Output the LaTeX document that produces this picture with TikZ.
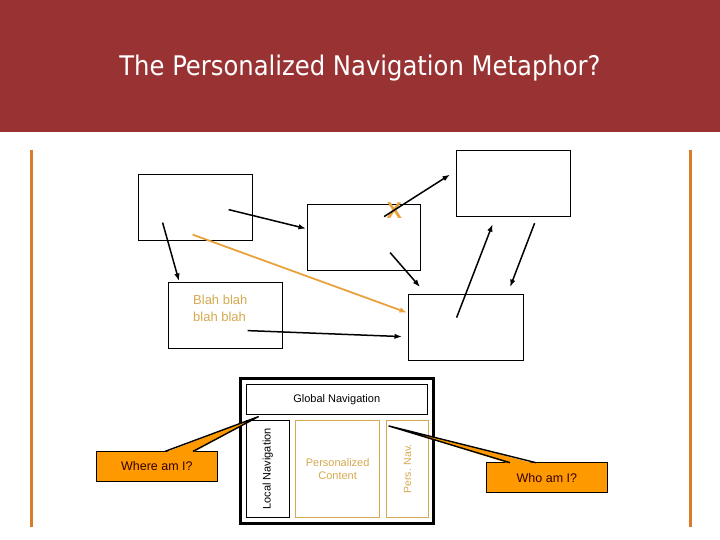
\documentclass[tikz,border=0pt]{standalone}
\usepackage{fontspec}
\setmainfont{Liberation Sans}
\newfontfamily\titlefont{DejaVu Sans Condensed}
\usepackage{xcolor}
\usepackage{tikz}
\usetikzlibrary{arrows.meta,positioning,calc}

\definecolor{headred}{HTML}{993333}
\definecolor{railorange}{HTML}{D97B29}
\definecolor{pathorange}{HTML}{E9A23B}
\definecolor{gold}{HTML}{D6A850}
\definecolor{calloutfill}{HTML}{FF9900}
\definecolor{callouttext}{HTML}{330000}

\begin{document}
\begin{tikzpicture}[x=1pt, y=-1pt,
  every node/.style={inner sep=0pt, align=center},
  page/.style={draw, line width=1.2pt, anchor=north west, minimum width=114pt, minimum height=66pt},
  link/.style={-{Latex[length=7.5pt,width=5.5pt]}, line width=1.5pt},
  region/.style={draw, line width=1pt, anchor=north west, minimum height=96.7pt, font=\fontsize{11}{13}\selectfont},
  personal/.style={region, draw=gold, text=gold},
  callbox/.style={draw, fill=calloutfill, text=callouttext, line width=1.1pt, anchor=north west,
    minimum width=120.7pt, minimum height=29.5pt, font=\fontsize{12.5}{14}\selectfont},
  pointer/.style={line width=1.4pt, line join=round}
]
\useasboundingbox (0,0) rectangle (720,540);

% header and side rails
\fill[headred] (0,0) rectangle (720,132);
\node[text=white, font=\titlefont\fontsize{27}{30}\selectfont] (title) at (360,68) {The Personalized Navigation Metaphor?};
\draw[railorange, line width=3pt] (31,150) -- (31,527);
\draw[railorange, line width=3pt] (690,150) -- (690,527);

% pages
\node[page] (home) at (138,174) {};
\node[page, minimum width=113pt] (section) at (307,204) {};
\node[page] (blah) at (168,282) {};
\node[page] (target) at (456,150) {};
\node[page, minimum width=115pt] (landing) at (408,294) {};
\node[anchor=north west, align=left, text=gold, font=\fontsize{13}{16.5}\selectfont]
  (blahtext) at ([shift={(25,13)}]blah.north west) {Blah blah\\blah blah};
\node[text=pathorange, font=\bfseries\fontsize{23}{24}\selectfont]
  (cross) at ([shift={(-27,7)}]section.north east) {X};

% moves between pages
\draw[link] ([shift={(33,2)}]home.center) -- ([shift={(-1,-9)}]section.west);
\draw[link] ([shift={(-33,15)}]home.center) -- ([shift={(11,-1)}]blah.north west);
\draw[link, pathorange, line width=1.8pt] ([shift={(-3,27)}]home.center) -- ([shift={(-1,-15)}]landing.west);
\draw[link] ([shift={(22,15)}]blah.center) -- ([shift={(-6,9)}]landing.west);
\draw[link] ([shift={(20,-21)}]section.center) -- ([shift={(-6,-9)}]target.west);
\draw[link] ([shift={(26,15)}]section.center) -- ([shift={(12,-7)}]landing.north west);
\draw[link] ([shift={(-9.5,-10)}]landing.center) -- ([shift={(-21,7)}]target.south);
\draw[link] ([shift={(21,6)}]target.south) -- ([shift={(44,-7)}]landing.north);

% page layout
\node[draw, line width=2.8pt, anchor=north west, minimum width=193pt, minimum height=145pt] (screen) at (239,377) {};
\node[draw, line width=1pt, anchor=north west, minimum width=180.5pt, minimum height=30pt,
  font=\fontsize{11}{13}\selectfont] (global) at (246,384) {Global Navigation};
\node[region, minimum width=42.7pt] (local) at (246,420) {\rotatebox{90}{Local Navigation}};
\node[personal, minimum width=84.3pt, right=5.3pt of local] (content) {Personalized\\Content};
\node[personal, minimum width=42.7pt, right=5.3pt of content, font=\fontsize{10.5}{12}\selectfont]
  (persnav) {\rotatebox{90}{Pers. Nav.}};

% callouts
\node[callbox] (where) at (96,451) {Where am I?};
\node[callbox, minimum height=30pt] (who) at (486,462.3) {Who am I?};
\coordinate (wheretip) at ([shift={(12.3,-3.3)}]local.north west);
\coordinate (whotip) at ([shift={(3.3,6)}]persnav.north west);
\fill[calloutfill] ([shift={(69,1.5)}]where.north west) -- (wheretip) -- ([shift={(97,1.5)}]where.north west) -- cycle;
\draw[pointer] ([shift={(69,0.4)}]where.north west) -- (wheretip) -- ([shift={(97,0.4)}]where.north west);
\fill[calloutfill] ([shift={(24,1.5)}]who.north west) -- (whotip) -- ([shift={(50,1.5)}]who.north west) -- cycle;
\draw[pointer] ([shift={(24,0.4)}]who.north west) -- (whotip) -- ([shift={(50,0.4)}]who.north west);
\end{tikzpicture}
\end{document}
